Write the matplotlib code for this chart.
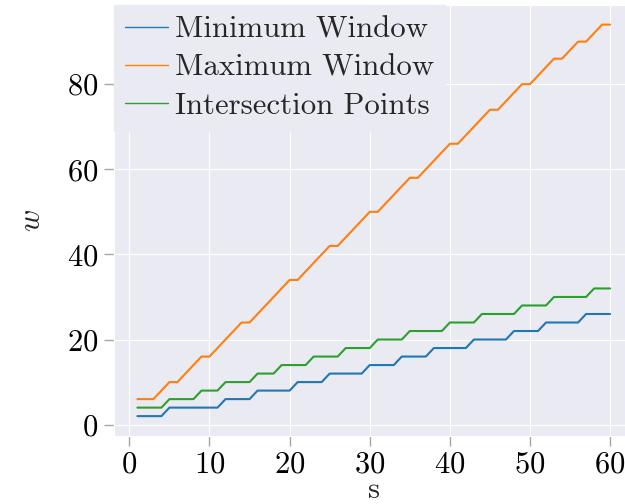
import matplotlib
matplotlib.use("Agg")
import matplotlib.pyplot as plt
import seaborn as sns

# window sizes per step s
s = list(range(1, 61))
min_window = ([2] * 4 + [4] * 7 + [6] * 4 + [8] * 5 + [10] * 4 + [12] * 5 + [14] * 4
              + [16] * 4 + [18] * 5 + [20] * 5 + [22] * 4 + [24] * 5 + [26] * 4)
max_window = [6, 6, 6, 8, 10, 10, 12, 14, 16, 16,
              18, 20, 22, 24, 24, 26, 28, 30, 32, 34,
              34, 36, 38, 40, 42, 42, 44, 46, 48, 50,
              50, 52, 54, 56, 58, 58, 60, 62, 64, 66,
              66, 68, 70, 72, 74, 74, 76, 78, 80, 80,
              82, 84, 86, 86, 88, 90, 90, 92, 94, 94]
intersections = ([4] * 4 + [6] * 4 + [8] * 3 + [10] * 4 + [12] * 3 + [14] * 4 + [16] * 4
                 + [18] * 4 + [20] * 4 + [22] * 5 + [24] * 4 + [26] * 5 + [28] * 4
                 + [30] * 5 + [32] * 3)
labels = ["Minimum Window", "Maximum Window", "Intersection Points"]
colors = ["#1f77b4", "#ff7f0e", "#2ca02c"]

sns.set_style("darkgrid", {"xtick.bottom": True, "ytick.left": True})
plt.rcParams["font.family"] = ["cmr10", "DejaVu Serif"]
plt.rcParams["mathtext.fontset"] = "cm"
plt.rcParams["axes.formatter.use_mathtext"] = True
plt.rcParams["axes.unicode_minus"] = False

fig = plt.figure(figsize=(6.25, 5.04), dpi=100)
ax = fig.add_axes([0.182, 0.1355, 0.832, 0.8545])

for ys, lab, c in zip([min_window, max_window, intersections], labels, colors):
    ax.plot(s, ys, lw=1.5, color=c, label=lab)

ax.set_xticks([0, 10, 20, 30, 40, 50, 60])
ax.set_yticks([0, 20, 40, 60, 80])
ax.tick_params(axis="both", labelsize=22, length=7, width=1, color="0.65",
               labelcolor="black", pad=4)
ax.set_xlabel("s", fontsize=22, labelpad=-1)
ax.set_ylabel("$w$", fontsize=22, labelpad=15)

leg = ax.legend(loc="upper left", fontsize=22.2, borderaxespad=0, handlelength=1.4,
                handletextpad=0.25, labelspacing=0.35, borderpad=0.35,
                framealpha=1, facecolor="#EAEAF2", edgecolor="#EAEAF2", fancybox=False)
for line in leg.get_lines():
    line.set_linewidth(1.0)

fig.savefig("out.png", dpi=100)
